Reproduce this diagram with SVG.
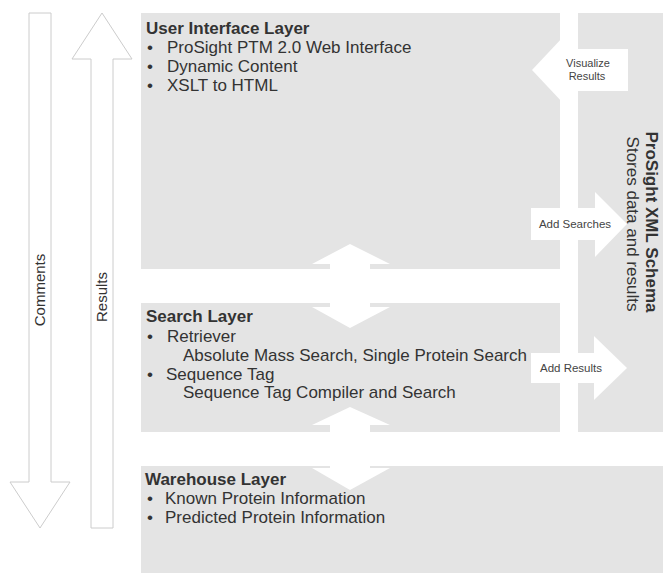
<svg xmlns="http://www.w3.org/2000/svg" width="663" height="573" viewBox="0 0 663 573">
<style>
.layer{fill:#e4e4e4}
.t{font-family:"Liberation Sans",Arial,sans-serif;font-size:17px;fill:#333}
.b{font-weight:bold}
.s{font-family:"Liberation Sans",Arial,sans-serif;font-size:11px;fill:#444}
.out{fill:#fff;stroke:#cccccc;stroke-width:1}
.wa{fill:#fff}
</style>
<rect width="663" height="573" fill="#fff"/>
<g id="ui-layer">
<rect class="layer" x="141" y="13" width="419" height="256"/>
<text class="t b" x="146" y="34">User Interface Layer</text>
<text class="t" x="147" y="53">•</text><text class="t" x="167" y="53">ProSight PTM 2.0 Web Interface</text>
<text class="t" x="147" y="72">•</text><text class="t" x="167" y="72">Dynamic Content</text>
<text class="t" x="147" y="91">•</text><text class="t" x="167" y="91">XSLT to HTML</text>
</g>
<g id="search-layer">
<rect class="layer" x="141" y="303" width="419" height="129"/>
<text class="t b" x="146" y="322">Search Layer</text>
<text class="t" x="147" y="342">•</text><text class="t" x="167" y="342">Retriever</text>
<text class="t" x="183" y="361">Absolute Mass Search, Single Protein Search</text>
<text class="t" x="147" y="380">•</text><text class="t" x="166" y="380">Sequence Tag</text>
<text class="t" x="183" y="398">Sequence Tag Compiler and Search</text>
</g>
<g id="warehouse-layer">
<rect class="layer" x="141" y="466" width="522" height="107"/>
<text class="t b" x="145" y="485">Warehouse Layer</text>
<text class="t" x="147" y="504">•</text><text class="t" x="165" y="504">Known Protein Information</text>
<text class="t" x="147" y="523">•</text><text class="t" x="165" y="523">Predicted Protein Information</text>
</g>
<g id="xml-schema">
<rect class="layer" x="578" y="13" width="85" height="420"/>
<text class="t b" transform="translate(646,222) rotate(90)" text-anchor="middle">ProSight XML Schema</text>
<text class="t" transform="translate(627,224) rotate(90)" text-anchor="middle">Stores data and results</text>
</g>
<g id="connectors">
<g id="comments-arrow">
<polygon class="out" points="29,13 51,13 51,482 70,482 40,528 10,482 29,482"/>
<text class="t" font-size="15" transform="translate(45,290) rotate(-90)" text-anchor="middle" style="font-size:15px">Comments</text>
</g>
<g id="results-arrow">
<polygon class="out" points="102,13 132,59 113,59 113,528 91,528 91,59 72,59"/>
<text class="t" transform="translate(107,297) rotate(-90)" text-anchor="middle" style="font-size:15px">Results</text>
</g>
<polygon id="ui-search-arrow" class="wa" points="350,244 390,264 370,264 370,307 390,307 350,328 312,307 330,307 330,264 312,264"/>
<polygon id="search-warehouse-arrow" class="wa" points="350,407 390,425 370,425 370,468 390,468 350,490 312,468 330,468 330,425 312,425"/>
<rect class="wa" x="560" y="13" width="18" height="420"/>
<rect class="wa" x="141" y="269" width="437" height="34"/>
<rect class="wa" x="141" y="432" width="522" height="34"/>
<g id="visualize-arrow">
<polygon class="wa" points="532,70 563,37 563,49 628,49 628,91 563,91 563,103"/>
<text class="s" x="588" y="67" text-anchor="middle">Visualize</text>
<text class="s" x="587" y="80" text-anchor="middle">Results</text>
</g>
<g id="add-searches-arrow">
<polygon class="wa" points="531,208 595,208 595,192 627,224 595,257 595,240 531,240"/>
<text class="s" x="575" y="228" text-anchor="middle" style="font-size:11.5px">Add Searches</text>
</g>
<g id="add-results-arrow">
<polygon class="wa" points="531,353 594,353 594,336 627,368 594,400 594,383 531,383"/>
<text class="s" x="571" y="372" text-anchor="middle" style="font-size:11.5px">Add Results</text>
</g>
</g>
</svg>
